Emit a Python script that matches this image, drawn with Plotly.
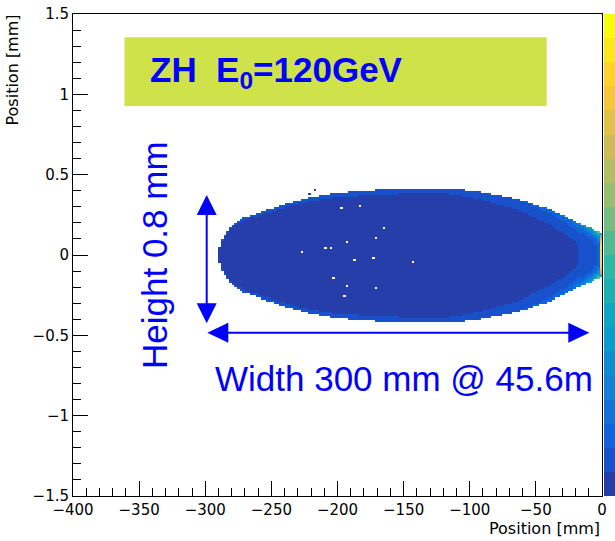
import numpy as np
import plotly.graph_objects as go

# ---------------- data ----------------
# outline of the filled beam spot: x position [mm] and half-height [mm]
outline_x = [-289.5, -287.3, -281.3, -271.5, -258.6, -245.8, -233.7, -220.8, -199.6,
             -175.0, -152.7, -130.0, -114.9, -90.0, -64.3, -39.3, -19.0, -3.8, 0.0]
outline_half = [0.04, 0.09, 0.17, 0.23, 0.268, 0.302, 0.333, 0.361, 0.389,
                0.405, 0.414, 0.418, 0.417, 0.392, 0.352, 0.285, 0.205, 0.15, 0.13]

# colour level (0..19 of the 20 contours) along x, on the centre line and at the rim
level_x = [-300, -120, -90, -60, -40, -25, -15, -8, -5, -3, -1]
core_level = [0.0, 0.0, 0.1, 0.35, 0.6, 0.85, 1.05, 1.3, 1.7, 2.4, 18.5]
rim_level = [1.3, 1.4, 1.6, 2.0, 2.6, 3.3, 5.0, 8.0, 10.0, 12.0, 7.0]

# empty bins inside the spot (white dots)
empty_x = [-197.6, -183.0, -165.4, -171.4, -193.1, -209.2, -205.5, -227.1,
           -187.6, -172.9, -203.2, -193.1, -171.1, -195.1, -143.5]
empty_y = [0.291, 0.307, 0.170, 0.112, 0.083, 0.050, 0.050, 0.023,
           -0.033, -0.021, -0.141, -0.189, -0.201, -0.261, -0.050]

# isolated filled bins just outside the outline
stray_x = [-220.8, -217.0]
stray_y = [0.386, 0.400]

# histogram binning
x_bin, y_bin = 2.0, 0.0125
x_edges = np.arange(-300.0, 0.0 + 1e-9, x_bin)
y_edges = np.arange(-0.45, 0.45 + 1e-9, y_bin)

# ---------------- build histogram cells ----------------
xc = 0.5 * (x_edges[:-1] + x_edges[1:])
yc = 0.5 * (y_edges[:-1] + y_edges[1:])
half = np.interp(xc, outline_x, outline_half, left=0.0, right=0.0)
core = np.interp(xc, level_x, core_level)
rim = np.interp(xc, level_x, rim_level)
X, Y = np.meshgrid(xc, yc)
H = np.broadcast_to(half, X.shape)
with np.errstate(divide="ignore", invalid="ignore"):
    r = np.abs(Y) / H
z = core[None, :] + (rim - core)[None, :] * r ** 4
z = np.where((H > 0) & (np.abs(Y) <= H), z, np.nan)
for ex, ey in zip(empty_x, empty_y):
    ix = int((ex - x_edges[0]) // x_bin)
    iy = int((ey - y_edges[0]) // y_bin)
    z[iy, ix] = np.nan
for sx, sy in zip(stray_x, stray_y):
    ix = int((sx - x_edges[0]) // x_bin)
    iy = int((sy - y_edges[0]) // y_bin)
    z[iy, ix] = 0.5
z = np.clip(z, 0, 19.99)

# ---------------- ROOT kBird palette, 20 contours ----------------
bird_pos = [0, 0.125, 0.25, 0.375, 0.5, 0.625, 0.75, 0.875, 1.0]
bird_r = [0.2082, 0.0592, 0.0780, 0.0232, 0.1802, 0.5301, 0.8186, 0.9956, 0.9764]
bird_g = [0.1664, 0.3599, 0.5041, 0.6419, 0.7178, 0.7492, 0.7328, 0.7862, 0.9832]
bird_b = [0.5293, 0.8684, 0.8385, 0.7914, 0.6425, 0.4662, 0.3499, 0.1968, 0.0539]
n_cont = 20
cs = []
for i in range(n_cont):
    t = (i + 0.99) / n_cont
    c = "rgb(%d,%d,%d)" % tuple(int(round(255 * np.interp(t, bird_pos, ch)))
                               for ch in (bird_r, bird_g, bird_b))
    cs.append([i / n_cont, c])
    cs.append([(i + 1) / n_cont, c])

# ---------------- pixel helpers for annotation geometry ----------------
L, R, T, B = 73, 602, 14, 496
def px2x(px):
    return -400 + (px - L) * 400.0 / (R - L)
def py2y(py):
    return 1.5 - (py - T) * 3.0 / (B - T)
dx_px = 400.0 / (R - L)
dy_px = 3.0 / (B - T)

fig = go.Figure()
fig.add_trace(go.Heatmap(
    x=x_edges, y=y_edges, z=z, colorscale=cs, zmin=0, zmax=n_cont,
    zsmooth=False, hoverinfo="skip",
    colorbar=dict(x=(604 - L) / (R - L), xanchor="left", thickness=22, len=1,
                  lenmode="fraction", y=0.5, yanchor="middle", ypad=0, xpad=0,
                  outlinewidth=0, showticklabels=False, ticks=""),
))

blue = "#0000ff"
shapes = []
# yellow-green label box
shapes.append(dict(type="rect", xref="x", yref="y",
                   x0=px2x(124.5), x1=px2x(546.7), y0=py2y(106), y1=py2y(37.3),
                   fillcolor="#cfe24a", line=dict(width=0), layer="above"))
# vertical double arrow
vx = px2x(206.7); vt = py2y(195); vb = py2y(323.3)
hl, hw = 20 * dy_px, 10 * dx_px
shapes.append(dict(type="line", xref="x", yref="y", x0=vx, x1=vx, y0=vt - hl * 0.8, y1=vb + hl * 0.8,
                   line=dict(color=blue, width=2)))
shapes.append(dict(type="path", xref="x", yref="y", fillcolor=blue, line=dict(width=0),
                   path="M %f,%f L %f,%f L %f,%f Z" % (vx, vt, vx - hw, vt - hl, vx + hw, vt - hl)))
shapes.append(dict(type="path", xref="x", yref="y", fillcolor=blue, line=dict(width=0),
                   path="M %f,%f L %f,%f L %f,%f Z" % (vx, vb, vx - hw, vb + hl, vx + hw, vb + hl)))
# horizontal double arrow
hy = py2y(332.7); hxl = px2x(207.3); hxr = px2x(589.3)
al, aw = 21 * dx_px, 10 * dy_px
shapes.append(dict(type="line", xref="x", yref="y", x0=hxl + al * 0.8, x1=hxr - al * 0.8, y0=hy, y1=hy,
                   line=dict(color=blue, width=2)))
shapes.append(dict(type="path", xref="x", yref="y", fillcolor=blue, line=dict(width=0),
                   path="M %f,%f L %f,%f L %f,%f Z" % (hxl, hy, hxl + al, hy + aw, hxl + al, hy - aw)))
shapes.append(dict(type="path", xref="x", yref="y", fillcolor=blue, line=dict(width=0),
                   path="M %f,%f L %f,%f L %f,%f Z" % (hxr, hy, hxr - al, hy + aw, hxr - al, hy - aw)))

annotations = [
    dict(text="<b>ZH\u00a0\u00a0E<sub>0</sub>=120GeV</b>", xref="x", yref="y",
         x=px2x(148), y=py2y(72), xanchor="left", yanchor="middle", showarrow=False,
         font=dict(family="Liberation Sans, Arial", size=35, color=blue)),
    dict(text="Height 0.8 mm", xref="x", yref="y", x=px2x(154), y=py2y(255),
         xanchor="center", yanchor="middle", showarrow=False, textangle=-90,
         font=dict(family="Liberation Sans, Arial", size=35, color=blue)),
    dict(text="Width 300 mm @ 45.6m", xref="x", yref="y", x=px2x(213), y=py2y(378),
         xanchor="left", yanchor="middle", showarrow=False,
         font=dict(family="Liberation Sans, Arial", size=35, color=blue)),
    dict(text="Position [mm]", xref="paper", yref="paper", x=1.0, y=(B - 528) / (B - T),
         xanchor="right", yanchor="middle", showarrow=False,
         font=dict(family="DejaVu Sans", size=16, color="black")),
    dict(text="Position [mm]", xref="paper", yref="paper", x=(12 - L) / (R - L),
         y=(B - 13) / (B - T), xanchor="center", yanchor="top", showarrow=False,
         textangle=-90, font=dict(family="DejaVu Sans", size=16, color="black")),
]

axis_common = dict(ticks="inside", ticklen=15, tickwidth=1, tickcolor="black",
                   showline=True, linecolor="black", linewidth=1, mirror=True,
                   showgrid=False, zeroline=False,
                   tickfont=dict(family="DejaVu Sans", size=15, color="black"))
fig.update_layout(
    width=615, height=541,
    margin=dict(l=L, r=615 - R, t=T, b=541 - B, autoexpand=False),
    paper_bgcolor="white", plot_bgcolor="white",
    xaxis=dict(range=[-400, 0], tick0=0, dtick=50,
               minor=dict(ticks="inside", ticklen=8, dtick=10, tickcolor="black"),
               **axis_common),
    yaxis=dict(range=[-1.5, 1.5], tick0=0, dtick=0.5,
               minor=dict(ticks="inside", ticklen=8, dtick=0.1, tickcolor="black"),
               **axis_common),
    shapes=shapes, annotations=annotations, showlegend=False,
)
fig.write_html("out.html", config={"displayModeBar": False})
